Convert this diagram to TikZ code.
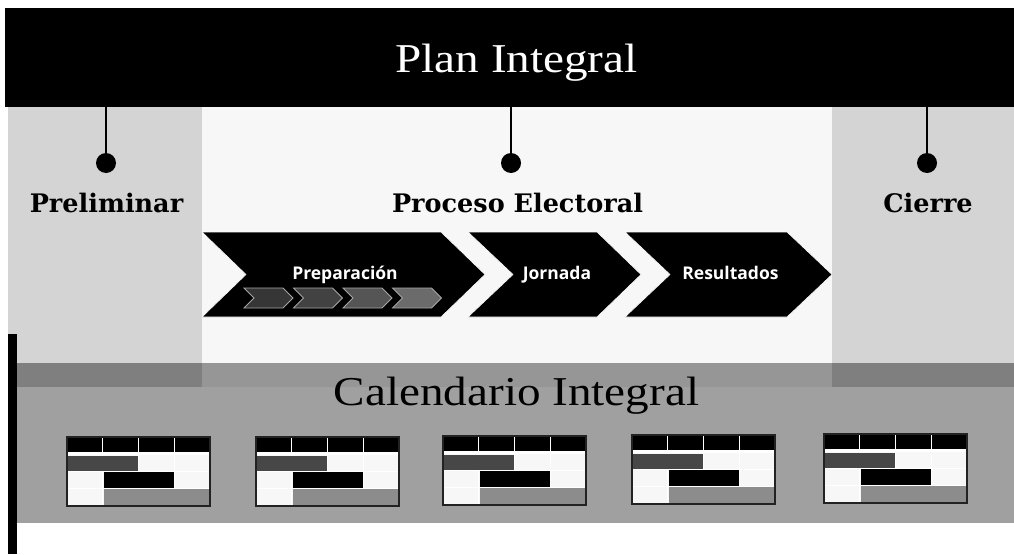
\documentclass[tikz,border=0pt]{standalone}
\usepackage{fontspec}
\setmainfont{Liberation Serif}
\newfontfamily\titlefont[FakeStretch=1.15]{Liberation Serif}
\newfontfamily\headfont{DejaVu Serif}
\newfontfamily\chevfont{Open Sans}
\usetikzlibrary{calc}
\definecolor{colside}{HTML}{D4D4D4}
\definecolor{colmid}{HTML}{F7F7F7}
\definecolor{banddark}{HTML}{7F7F7F}
\definecolor{bandmid}{HTML}{969696}
\definecolor{calbg}{HTML}{A0A0A0}
\definecolor{cellw}{HTML}{F7F7F7}
\definecolor{barone}{HTML}{474747}
\definecolor{barthree}{HTML}{8C8C8C}
\definecolor{tabline}{HTML}{222222}
\definecolor{sc1}{HTML}{363636}
\definecolor{sc2}{HTML}{424242}
\definecolor{sc3}{HTML}{555555}
\definecolor{sc4}{HTML}{6B6B6B}
\definecolor{scline}{HTML}{A6A6A6}
\begin{document}
\begin{tikzpicture}[x=1pt,y=-1pt,
  titletext/.style={font=\titlefont\fontsize{41}{44}\selectfont, anchor=base, inner sep=0},
  phase/.style={font=\headfont\bfseries\fontsize{25.5}{28}\selectfont, anchor=base, inner sep=0},
  dotnode/.style={circle, fill=black, minimum size=20pt, inner sep=0},
  chev/.style={fill=black, draw=white, line width=0.6pt},
  chevtext/.style={font=\chevfont\bfseries\fontsize{17.5}{20}\selectfont, text=white, anchor=base, inner sep=0},
  smallchev/.style={draw=scline, line width=0.8pt},
  caltab/.pic={
    \fill[cellw] (0,0) rectangle (143,69);
    \fill[black] (0,0) rectangle (143,15);
    \fill[white] (0,15) rectangle (143,18);
    \foreach \c in {35.75,71.5,107.25} \draw[white,line width=1.2pt] (\c,0) -- (\c,69);
    \draw[white,line width=1pt] (0,34.5) -- (143,34.5) (0,51.5) -- (143,51.5);
    \fill[barone] (0.5,18.5) rectangle (71,34);
    \fill[black] (36.5,35) rectangle (107,51);
    \fill[barthree] (36.5,52) rectangle (143,69);
    \draw[tabline,line width=1.3pt] (0,0) rectangle (143,69);
  }
]
\useasboundingbox (0,0) rectangle (1014,554);
\fill[white] (0,0) rectangle (1014,554);
% column backgrounds
\fill[colside] (8,107) rectangle (202,363);
\fill[colmid] (202,107) rectangle (832,363);
\fill[colside] (832,107) rectangle (1014,363);
\fill[banddark] (17,363) rectangle (202,387);
\fill[bandmid] (202,363) rectangle (832,387);
\fill[banddark] (832,363) rectangle (1014,387);
\fill[calbg] (17,387) rectangle (1014,523);
\fill[black] (8,334) rectangle (17,554);
% top band
\node[fill=black, minimum width=1009pt, minimum height=99pt, inner sep=0, anchor=north west] (plan) at (5,8) {};
\node[titletext, text=white] (plantxt) at (516.5,72) {Plan Integral};
% phase markers
\node[dotnode] (d1) at (106,163) {};
\node[dotnode] (d2) at (511,163) {};
\node[dotnode] (d3) at (927,163) {};
\draw[line width=1.5pt] (plan.south -| d1) -- (d1);
\draw[line width=1.5pt] (plan.south -| d2) -- (d2);
\draw[line width=1.5pt] (plan.south -| d3) -- (d3);
\node[phase] (pre) at (106.5,212) {Preliminar};
\node[phase] (proc) at (517.5,212) {Proceso Electoral};
\node[phase] (cie) at (928,212) {Cierre};
% chevrons
\fill[chev] (202,232) -- (441,232) -- (485,274.5) -- (441,317) -- (202,317) -- (246,274.5) -- cycle;
\fill[chev] (468,232) -- (597,232) -- (641,274.5) -- (597,317) -- (468,317) -- (513,274.5) -- cycle;
\fill[chev] (625,232) -- (787,232) -- (832,274.5) -- (787,317) -- (625,317) -- (670,274.5) -- cycle;
\node[chevtext] (prep) at (345,279) {Preparación};
\node[chevtext] (jor) at (557,279) {Jornada};
\node[chevtext] (res) at (730.5,279) {Resultados};
% small chevrons
\foreach \i/\col in {0/sc1,1/sc2,2/sc3,3/sc4}{
  \filldraw[smallchev, fill=\col] ({244+49.5*\i},288) -- ({283+49.5*\i},288) -- ({293+49.5*\i},298) -- ({283+49.5*\i},308) -- ({244+49.5*\i},308) -- ({254+49.5*\i},298) -- cycle;
}
% calendar
\node[titletext] (cal) at (516.5,405) {Calendario Integral};
\pic at (67,437) {caltab};
\pic at (256,437) {caltab};
\pic at (443,436) {caltab};
\pic at (632,435) {caltab};
\pic at (824,434) {caltab};
\end{tikzpicture}
\end{document}
